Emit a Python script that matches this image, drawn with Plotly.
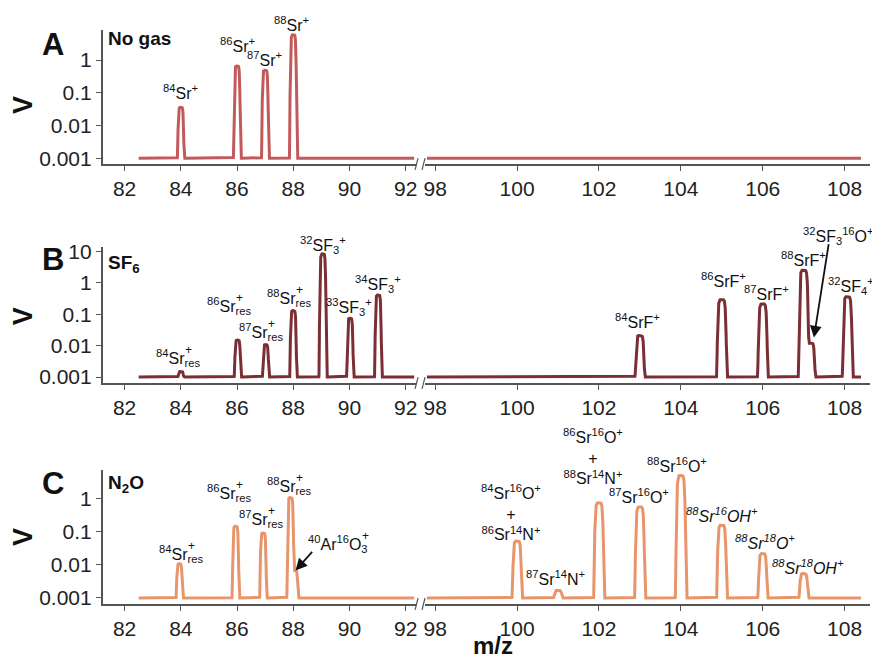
import numpy as np
import plotly.graph_objects as go

W, H = 872, 658

# ---------------- data (peak centres in m/z, peak heights in V) ----------------
baseline = 0.001
peaks_A_mz = [84.0, 86.0, 87.0, 88.0]
peaks_A_v = [0.036, 0.66, 0.49, 5.9]

peaks_B_mz = [84.0, 86.02, 87.02, 88.0, 89.05, 90.02, 91.02, 103.0, 105.0, 106.0, 107.0, 107.17, 108.07]
peaks_B_v = [0.0015, 0.015, 0.0107, 0.13, 8.3, 0.074, 0.41, 0.021, 0.29, 0.21, 2.5, 0.012, 0.36]

peaks_C_mz = [83.95, 85.95, 86.93, 87.9, 88.06, 100.0, 101.0, 102.0, 103.0, 104.0, 105.0, 106.0, 107.0]
peaks_C_v = [0.0108, 0.148, 0.092, 1.1, 0.0068, 0.053, 0.0017, 0.76, 0.57, 5.1, 0.16, 0.022, 0.0055]

x_left_span = [82.5, 92.3]
x_right_span = [97.8, 108.4]
x_left_ticks = [82, 84, 86, 88, 90, 92]
x_right_ticks = [98, 100, 102, 104, 106, 108]
y_tick_vals = [0.001, 0.01, 0.1, 1, 10]
y_tick_text = ["0.001", "0.01", "0.1", "1", "10"]

colors = ["#C25A5C", "#7B2F34", "#E8956B"]

FONT = "Liberation Sans, Arial"

# ---------------- layout helpers ----------------
def px_x(p):
    return p / W

def px_y(p):
    return 1 - p / H

rows = [  # (top px, bottom px, log-range)
    (23, 160, [-3.18, 0.93]),
    (244, 383, [-3.19, 1.15]),
    (472, 608, [-3.18, 0.86]),
]
left_dom = [px_x(102), px_x(416)]
right_dom = [px_x(425), px_x(872)]
left_range = [81.22, 92.35]
right_range = [97.74, 108.62]


def profile(xs, mzs, vs, w=0.09):
    y = np.full_like(xs, baseline)
    for m, v in zip(mzs, vs):
        y = y + (v - baseline) * np.exp(-np.abs((xs - m) / w) ** 6)
    return y


fig = go.Figure()
series = [(peaks_A_mz, peaks_A_v), (peaks_B_mz, peaks_B_v), (peaks_C_mz, peaks_C_v)]

for i, (mzs, vs) in enumerate(series):
    r = i + 1
    xl = np.linspace(x_left_span[0], x_left_span[1], 3000)
    xr = np.linspace(x_right_span[0], x_right_span[1], 3000)
    xa_l = 2 * i + 1
    xa_r = 2 * i + 2
    fig.add_trace(go.Scatter(x=xl, y=profile(xl, mzs, vs), mode="lines",
                             line=dict(color=colors[i], width=3),
                             xaxis=f"x{xa_l}", yaxis=f"y{r}", showlegend=False,
                             hoverinfo="skip"))
    fig.add_trace(go.Scatter(x=xr, y=profile(xr, mzs, vs), mode="lines",
                             line=dict(color=colors[i], width=3),
                             xaxis=f"x{xa_r}", yaxis=f"y{r + 3}", showlegend=False,
                             hoverinfo="skip"))

tickfont = dict(family=FONT, size=21, color="#222")
axis_common = dict(showgrid=False, zeroline=False, showline=True, linecolor="#555",
                   linewidth=1.5, ticks="outside", ticklen=5, tickwidth=1.2,
                   tickcolor="#555", tickfont=tickfont)

layout = dict(width=W, height=H, margin=dict(l=0, r=0, t=0, b=0),
              plot_bgcolor="white", paper_bgcolor="white",
              font=dict(family=FONT, color="#111"))

for i, (top, bot, yr) in enumerate(rows):
    r = i + 1
    dom_y = [px_y(bot), px_y(top)]
    xa_l = 2 * i + 1
    xa_r = 2 * i + 2
    key_l = "xaxis" if xa_l == 1 else f"xaxis{xa_l}"
    layout[key_l] = dict(axis_common, domain=left_dom, range=left_range,
                         tickvals=x_left_ticks, anchor=f"y{r}")
    layout[f"xaxis{xa_r}"] = dict(axis_common, domain=right_dom, range=right_range,
                                  tickvals=x_right_ticks, anchor=f"y{r + 3}")
    key_y = "yaxis" if r == 1 else f"yaxis{r}"
    layout[key_y] = dict(axis_common, type="log", domain=dom_y, range=yr,
                         tickvals=y_tick_vals, ticktext=y_tick_text,
                         anchor=f"x{xa_l}")
    layout[f"yaxis{r + 3}"] = dict(type="log", domain=dom_y, range=yr, visible=False,
                                  anchor=f"x{xa_r}", showgrid=False)

fig.update_layout(**layout)

ann = []
shapes = []


def label(xref, x, ypx, text, size=16, **kw):
    d = dict(xref=xref, x=x, yref="paper", y=px_y(ypx), text=text, showarrow=False,
             font=dict(size=size, color="#111", family=FONT),
             xanchor="center", yanchor="middle")
    d.update(kw)
    ann.append(d)


def sr_res(xref, x, ypx, iso):
    # "iso Sr" with "+" stacked over subscript "res"
    label(xref, x, ypx, f"<sup>{iso}</sup>Sr<sub>res</sub>")
    label(xref, x, ypx, "+", size=12, xanchor="left", xshift=5, yshift=8)


# panel letters, V titles, gas labels
for (letter, ypx), (gas, gy) in zip([("A", 38), ("B", 257), ("C", 485)],
                                    [("No gas", 32), ("SF<sub>6</sub>", 262), ("N<sub>2</sub>O", 486)]):
    label("paper", px_x(52), ypx, f"<b>{letter}</b>", size=31)
    label("paper", px_x(105), gy, f"<b>{gas}</b>", size=19, xanchor="left")
for ypx in [100, 315, 540]:
    label("paper", px_x(22), ypx, "<b>V</b>", size=27, textangle=-90)
label("paper", px_x(494), 650, "<b>m/z</b>", size=24, borderpad=0)

# row A
label("x", 84.0, 87, "<sup>84</sup>Sr<sup>+</sup>")
label("x", 86.0, 39, "<sup>86</sup>Sr<sup>+</sup>")
label("x", 86.97, 53, "<sup>87</sup>Sr<sup>+</sup>")
label("x", 87.95, 17, "<sup>88</sup>Sr<sup>+</sup>")
# row B left
sr_res("x3", 83.9, 358, 84)
sr_res("x3", 85.7, 305, 86)
sr_res("x3", 86.85, 331, 87)
sr_res("x3", 87.85, 296, 88)
label("x3", 89.05, 242, "<sup>32</sup>SF<sub>3</sub><sup>+</sup>")
label("x3", 90.0, 306, "<sup>33</sup>SF<sub>3</sub><sup>+</sup>")
label("x3", 91.0, 282, "<sup>34</sup>SF<sub>3</sub><sup>+</sup>")
# row B right
label("x4", 102.95, 320, "<sup>84</sup>SrF<sup>+</sup>")
label("x4", 105.05, 278, "<sup>86</sup>SrF<sup>+</sup>")
label("x4", 106.1, 291, "<sup>87</sup>SrF<sup>+</sup>")
label("x4", 107.0, 257, "<sup>88</sup>SrF<sup>+</sup>")
label("x4", 108.15, 284, "<sup>32</sup>SF<sub>4</sub><sup>+</sup>")
label("x4", 107.85, 233, "<sup>32</sup>SF<sub>3</sub><sup>16</sup>O<sup>+</sup>")
# row C left
sr_res("x5", 84.0, 557, 84)
sr_res("x5", 85.7, 495, 86)
sr_res("x5", 86.85, 522, 87)
sr_res("x5", 87.85, 488, 88)
label("x5", 89.6, 547, "<sup>40</sup>Ar<sup>16</sup>O<sub>3</sub>")
label("x5", 89.6, 547, "+", size=12, xanchor="left", xshift=22, yshift=8)
# row C right
label("x6", 99.85, 515, "<sup>84</sup>Sr<sup>16</sup>O<sup>+</sup><br>+<br><sup>86</sup>Sr<sup>14</sup>N<sup>+</sup>")
label("x6", 100.95, 582, "<sup>87</sup>Sr<sup>14</sup>N<sup>+</sup>")
label("x6", 101.85, 458, "<sup>86</sup>Sr<sup>16</sup>O<sup>+</sup><br>+<br><sup>88</sup>Sr<sup>14</sup>N<sup>+</sup>")
label("x6", 102.97, 498, "<sup>87</sup>Sr<sup>16</sup>O<sup>+</sup>")
label("x6", 103.9, 466, "<sup>88</sup>Sr<sup>16</sup>O<sup>+</sup>")
label("x6", 105.0, 517, "<i><sup>88</sup>Sr<sup>16</sup>OH<sup>+</sup></i>")
label("x6", 106.05, 545, "<i><sup>88</sup>Sr<sup>18</sup>O<sup>+</sup></i>")
label("x6", 107.1, 570, "<i><sup>88</sup>Sr<sup>18</sup>OH<sup>+</sup></i>")

# arrows
ann.append(dict(xref="x4", yref="y5", x=107.25, y=np.log10(0.018),
                ax=15, ay=-95, showarrow=True,
                arrowhead=2, arrowsize=1.3, arrowwidth=1.8, arrowcolor="#111", text=""))
ann.append(dict(xref="x5", yref="y3", x=88.08, y=np.log10(0.0068),
                ax=18, ay=-20, showarrow=True,
                arrowhead=2, arrowsize=1.3, arrowwidth=1.8, arrowcolor="#111", text=""))

# axis break marks
for (top, bot, yr) in rows:
    for xc in [417, 424]:
        shapes.append(dict(type="line", xref="paper", yref="paper",
                           x0=px_x(xc - 1.5), x1=px_x(xc + 1.5),
                           y0=px_y(bot + 6), y1=px_y(bot - 6),
                           line=dict(color="#555", width=1.2)))

fig.update_layout(annotations=ann, shapes=shapes)
fig.write_html("out.html", config={"displayModeBar": False},
               post_script="document.body.style.margin='0';document.body.style.padding='0';")
